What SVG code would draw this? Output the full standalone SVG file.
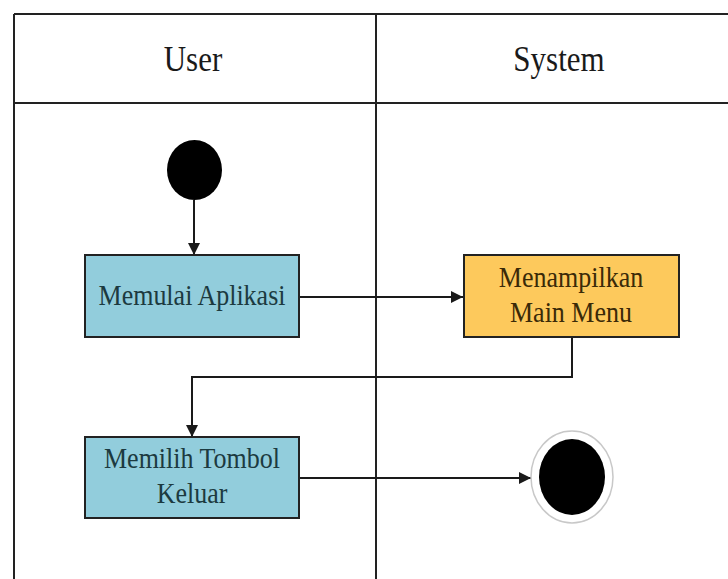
<svg xmlns="http://www.w3.org/2000/svg" width="728" height="579" viewBox="0 0 728 579">
  <style>
    .lane { stroke: #222; stroke-width: 2; fill: none; }
    .edge { stroke: #1a1a1a; stroke-width: 2; fill: none; }
    .head { font-family: 'Liberation Serif', Tinos, 'Times New Roman', serif; font-size: 31px; fill: #1a1a1a; text-anchor: middle; }
    .lbl { font-family: 'Liberation Serif', Tinos, 'Times New Roman', serif; font-size: 26px; text-anchor: middle; }
    .act-user { fill: #92cddc; stroke: #222; stroke-width: 2; }
    .act-sys { fill: #fdc95c; stroke: #222; stroke-width: 2; }
    .t-user { fill: #1c3a40; }
    .t-sys { fill: #3a2a08; }
  </style>
  <defs>
    <marker id="arrow" viewBox="0 0 12 12" refX="12" refY="6" markerWidth="12" markerHeight="12" markerUnits="userSpaceOnUse" orient="auto">
      <path d="M0,0 L12,6 L0,12 Z" fill="#1a1a1a"/>
    </marker>
  </defs>
  <rect width="728" height="579" fill="#ffffff"/>

  <!-- swimlane frame -->
  <g id="lanes">
    <line class="lane" x1="14" y1="14" x2="728" y2="14"/>
    <line class="lane" x1="14" y1="103" x2="728" y2="103"/>
    <line class="lane" x1="14" y1="14" x2="14" y2="579"/>
    <line class="lane" x1="376" y1="14" x2="376" y2="579"/>
    <text class="head" transform="translate(193,71) scale(1,1.15)">User</text>
    <text class="head" transform="translate(559,71) scale(1,1.15)">System</text>
  </g>

  <!-- connectors -->
  <g id="connectors">
    <line class="edge" x1="194" y1="200" x2="194" y2="255" marker-end="url(#arrow)"/>
    <line class="edge" x1="299" y1="297" x2="463" y2="297" marker-end="url(#arrow)"/>
    <polyline class="edge" points="572,337 572,377 192,377 192,437" marker-end="url(#arrow)"/>
    <line class="edge" x1="299" y1="478" x2="531" y2="478" marker-end="url(#arrow)"/>
  </g>

  <g id="start">
    <ellipse cx="194.5" cy="170" rx="27.5" ry="30" fill="#000"/>
  </g>

  <g id="memulai-aplikasi">
    <rect class="act-user" x="85" y="255" width="214" height="82"/>
    <text class="lbl t-user" transform="translate(192,305) scale(1,1.12)">Memulai Aplikasi</text>
  </g>

  <g id="menampilkan-main-menu">
    <rect class="act-sys" x="464" y="255" width="215" height="82"/>
    <text class="lbl t-sys" transform="translate(571,287) scale(1,1.12)">Menampilkan</text>
    <text class="lbl t-sys" transform="translate(571,322) scale(1,1.12)">Main Menu</text>
  </g>

  <g id="memilih-tombol-keluar">
    <rect class="act-user" x="85" y="437" width="214" height="81"/>
    <text class="lbl t-user" transform="translate(192,468) scale(1,1.12)">Memilih Tombol</text>
    <text class="lbl t-user" transform="translate(192,503) scale(1,1.12)">Keluar</text>
  </g>

  <g id="end">
    <ellipse cx="572" cy="477" rx="41" ry="46" fill="#fff" stroke="#c8c8c8" stroke-width="1.5"/>
    <ellipse cx="572" cy="477" rx="33" ry="38" fill="#000"/>
  </g>
</svg>
